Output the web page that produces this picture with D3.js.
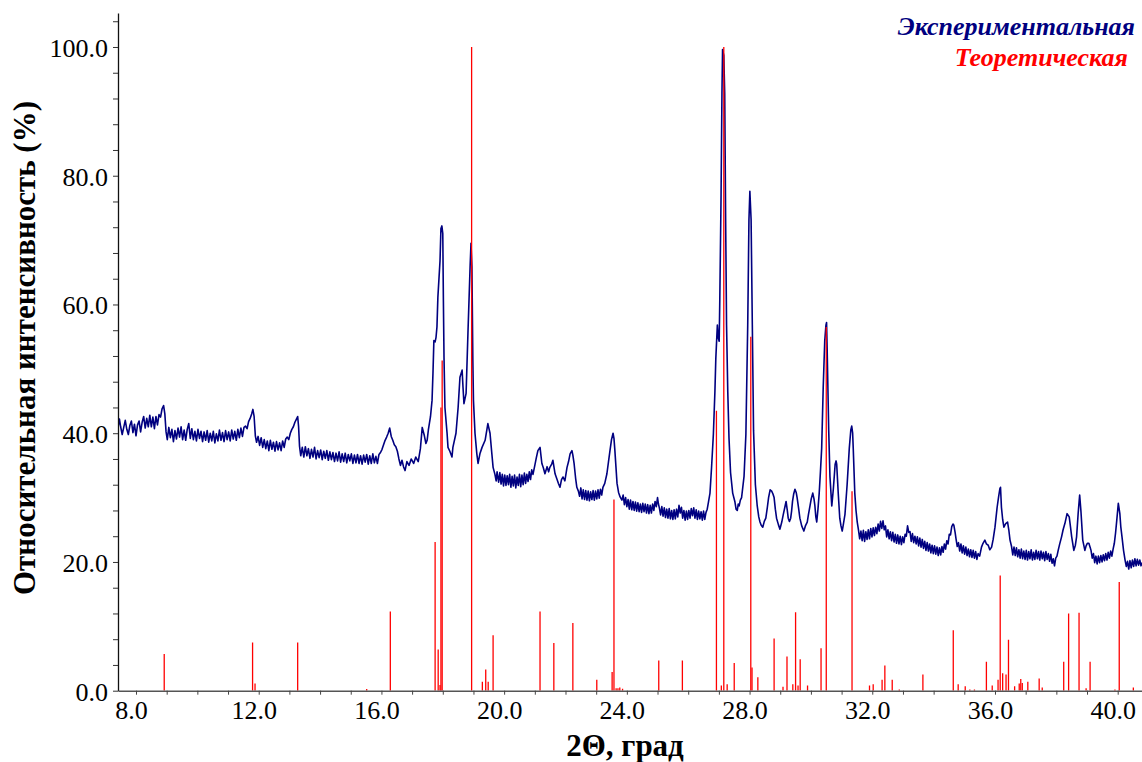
<!DOCTYPE html>
<html><head><meta charset="utf-8">
<script src="https://cdn.jsdelivr.net/npm/d3@7"></script>
<style>body{margin:0;background:#fff}svg{display:block}</style>
</head><body>
<svg id="chart" width="1142" height="762"></svg>
<script>
// Experimental pattern: [2Θ, relative intensity %]
const experimental = [
[7.41,40.8],[7.46,42.2],[7.5,41.0],[7.55,39.8],[7.6,40.9],[7.65,42.0],[7.7,40.6],[7.75,39.8],[7.8,41.2],[7.85,41.9],[7.9,40.1],[7.95,41.4],[8.0,39.6],[8.05,41.3],[8.1,41.9],[8.15,40.2],[8.2,41.7],[8.25,42.6],[8.3,40.8],[8.35,42.3],[8.4,41.0],[8.45,42.8],[8.5,41.0],[8.55,42.5],[8.6,40.7],[8.65,42.6],[8.7,41.3],[8.75,42.9],[8.8,42.5],[8.85,43.8],[8.9,44.3],[8.94,43.0],[8.98,40.2],
[9.02,39.0],[9.07,40.9],[9.12,39.3],[9.17,40.6],[9.22,38.7],[9.27,40.4],[9.32,39.1],[9.37,40.8],[9.42,39.4],[9.47,41.0],[9.52,39.0],[9.57,40.5],[9.62,38.9],[9.67,40.6],[9.72,41.5],[9.77,39.2],[9.82,40.7],[9.87,39.0],[9.92,40.3],[9.97,38.8],[10.02,40.6],[10.07,39.2],[10.12,40.3],[10.17,38.7],[10.22,40.2],[10.27,38.9],[10.32,40.4],[10.37,38.6],[10.42,40.0],[10.47,38.8],[10.52,40.3],[10.57,38.5],[10.62,39.9],[10.67,38.8],[10.72,40.5],[10.77,38.9],[10.82,40.1],[10.87,38.7],[10.92,40.4],[10.97,39.0],[11.02,40.2],[11.07,38.8],[11.12,40.5],[11.17,39.1],[11.22,40.3],[11.27,38.9],[11.32,40.6],[11.37,39.3],[11.42,40.8],[11.47,39.5],[11.52,40.9],
[11.57,41.1],[11.62,40.7],[11.67,41.8],[11.72,42.3],[11.77,43.0],[11.81,43.7],[11.85,42.6],[11.89,39.6],
[11.93,38.6],[11.98,39.5],[12.03,38.1],[12.08,39.3],[12.13,37.8],[12.18,39.0],[12.23,37.6],[12.28,38.8],[12.33,37.3],[12.38,38.9],[12.43,37.5],[12.48,38.6],[12.53,37.2],[12.58,38.7],[12.63,37.4],[12.68,38.5],[12.73,37.3],[12.78,38.8],[12.83,37.8],[12.88,39.1],
[12.93,39.4],[12.98,39.0],[13.03,40.0],[13.08,40.6],[13.13,41.0],[13.18,41.7],[13.23,42.2],[13.27,42.6],[13.3,41.0],[13.33,38.0],
[13.37,36.5],[13.42,37.8],[13.47,36.3],[13.52,37.9],[13.57,36.5],[13.62,37.6],[13.67,36.1],[13.72,37.5],[13.77,36.3],[13.82,37.8],[13.87,36.0],[13.92,37.3],[13.97,36.2],[14.02,37.4],[14.07,35.9],[14.12,37.2],[14.17,36.1],[14.22,37.3],[14.27,35.8],[14.32,37.1],[14.37,35.9],[14.42,37.0],[14.47,35.6],[14.52,36.9],[14.57,35.7],[14.62,37.1],[14.67,35.5],[14.72,36.8],[14.77,35.6],[14.82,36.9],[14.87,35.4],[14.92,36.7],[14.97,35.7],[15.02,36.8],[15.07,35.3],[15.12,36.6],[15.17,35.4],[15.22,36.7],[15.27,35.3],[15.32,36.5],[15.37,35.2],[15.42,36.6],[15.47,35.5],[15.52,36.7],[15.57,35.2],[15.62,36.5],[15.67,35.3],[15.72,36.8],[15.77,35.4],[15.82,36.4],[15.87,35.3],[15.92,36.7],[15.97,37.0],
[16.02,37.5],[16.07,38.2],[16.12,38.9],[16.17,39.4],[16.22,40.0],[16.27,40.8],[16.32,39.5],[16.37,38.9],[16.42,38.2],[16.47,37.9],[16.52,37.2],[16.57,36.0],[16.62,35.0],[16.67,35.8],[16.72,34.8],[16.77,34.2],[16.83,35.6],[16.9,35.0],[16.97,36.0],[17.05,35.3],[17.12,36.3],[17.2,35.6],[17.27,37.6],[17.33,40.9],[17.4,39.6],[17.45,38.4],[17.49,38.9],[17.53,40.5],[17.6,42.6],[17.65,45.1],[17.68,49.3],[17.71,54.4],[17.75,54.2],[17.78,54.9],[17.81,56.5],[17.84,61.1],[17.91,66.8],[17.94,71.8],[17.97,72.2],[18.0,71.0],[18.02,60.6],[18.04,51.8],[18.07,44.0],[18.14,40.0],[18.17,37.8],[18.23,37.2],[18.3,36.3],[18.33,37.8],[18.43,40.0],[18.5,44.0],[18.56,48.7],[18.63,49.8],[18.66,47.1],[18.69,44.6],[18.76,46.2],[18.82,55.5],[18.89,65.8],[18.92,69.5],[18.95,65.8],[18.98,51.3],[19.0,45.1],[19.05,40.0],[19.11,36.8],[19.15,35.3],[19.21,36.8],[19.28,37.8],[19.38,38.9],[19.47,41.5],[19.54,40.0],[19.6,36.8],[19.64,34.7],
[19.7,33.6],[19.74,32.6],[19.77,34.0],[19.82,32.4],[19.86,33.9],[19.9,32.1],[19.94,33.6],[19.98,31.8],[20.02,33.5],[20.06,31.9],[20.1,33.4],[20.14,32.0],[20.18,33.6],[20.22,31.6],[20.26,33.3],[20.3,31.8],[20.34,33.5],[20.38,31.5],[20.42,33.2],[20.46,31.9],[20.5,33.6],[20.54,31.7],[20.58,33.5],[20.62,32.0],[20.66,33.8],[20.7,32.2],[20.74,33.6],[20.78,32.5],[20.82,34.0],[20.86,32.8],[20.9,34.3],[20.94,33.6],
[21.0,35.0],[21.05,36.2],[21.1,37.3],[21.17,37.8],[21.23,35.3],[21.28,34.6],[21.33,33.7],[21.4,34.8],[21.45,34.0],[21.49,34.7],[21.55,35.2],[21.59,35.8],[21.66,33.7],[21.72,32.9],[21.77,32.2],[21.82,31.6],[21.87,32.8],[21.92,33.2],[21.98,32.6],[22.05,34.7],[22.1,35.6],[22.15,36.8],[22.21,37.3],[22.24,36.6],[22.28,35.3],[22.33,33.0],[22.37,31.6],
[22.42,31.0],[22.46,30.2],[22.5,31.5],[22.54,29.8],[22.58,31.2],[22.62,29.7],[22.66,31.1],[22.7,29.6],[22.74,31.0],[22.78,29.5],[22.82,30.9],[22.86,29.7],[22.9,31.1],[22.94,29.6],[22.98,31.0],[23.02,29.8],[23.06,31.2],[23.1,29.9],[23.14,31.3],[23.18,30.4],[23.22,31.6],
[23.28,32.2],[23.35,33.7],[23.4,35.5],[23.45,37.3],[23.5,39.0],[23.55,40.0],[23.58,39.2],[23.61,37.3],[23.68,32.2],[23.73,30.8],[23.78,30.1],
[23.84,29.6],[23.88,30.4],[23.92,28.9],[23.96,30.0],[24.0,28.6],[24.04,29.7],[24.08,28.2],[24.12,29.6],[24.16,28.1],[24.2,29.4],[24.24,28.0],[24.28,29.3],[24.32,27.9],[24.36,29.2],[24.4,27.8],[24.44,29.0],[24.48,27.7],[24.52,29.1],[24.56,27.8],[24.6,29.0],[24.64,27.6],[24.68,28.9],[24.72,27.5],[24.76,28.8],[24.8,27.6],[24.84,29.0],[24.88,28.0],[24.92,29.4],[24.96,28.6],[25.0,30.0],[25.03,29.0],[25.06,28.4],[25.1,27.3],[25.14,28.6],[25.18,27.1],[25.22,28.4],[25.26,26.9],[25.3,28.2],[25.34,26.8],[25.38,28.3],[25.42,26.7],[25.46,28.0],[25.5,26.6],[25.54,28.1],[25.58,26.7],[25.62,28.2],[25.66,27.0],[25.7,28.8],[25.74,27.6],[25.78,28.5],[25.82,26.8],[25.86,28.0],[25.9,26.5],[25.94,27.9],[25.98,26.6],[26.02,28.0],[26.06,26.8],[26.1,28.3],[26.14,27.2],[26.18,28.4],[26.22,26.8],[26.26,28.1],[26.3,26.6],[26.34,27.9],[26.38,26.7],[26.42,27.8],[26.46,26.5],[26.5,27.9],[26.54,26.6],[26.58,27.7],[26.62,28.2],[26.66,29.3],
[26.71,30.7],[26.76,34.6],[26.82,39.8],[26.87,46.4],[26.9,51.6],[26.95,56.8],[26.98,54.8],[27.01,54.3],[27.03,60.8],[27.07,76.5],[27.1,92.8],[27.12,99.6],[27.16,98.7],[27.19,92.8],[27.22,73.2],[27.25,56.8],[27.29,46.4],[27.33,39.2],[27.38,33.9],[27.45,30.7],[27.52,29.4],[27.56,28.2],[27.6,28.0],[27.63,29.0],[27.66,28.7],[27.7,29.6],[27.74,30.0],[27.82,33.3],[27.88,39.8],[27.94,56.8],[27.98,73.2],[28.01,77.6],[28.05,73.2],[28.09,56.8],[28.13,40.4],[28.19,32.0],[28.25,28.7],[28.3,27.0],[28.34,26.2],[28.38,25.7],[28.43,25.4],[28.48,26.3],[28.53,26.8],[28.58,28.5],[28.62,30.0],[28.67,31.2],[28.72,31.0],[28.76,30.6],[28.8,30.0],[28.84,28.2],[28.88,26.8],[28.94,25.8],[28.99,25.1],[29.05,26.2],[29.1,27.4],[29.15,28.5],[29.19,29.4],[29.23,28.0],[29.26,26.8],[29.3,26.3],[29.34,26.8],[29.37,27.9],[29.4,29.4],[29.44,30.6],[29.48,31.3],[29.52,30.8],[29.55,30.0],[29.6,28.3],[29.64,26.8],[29.7,25.6],[29.77,24.8],[29.82,25.6],[29.88,26.2],[29.92,27.4],[29.97,28.7],[30.01,29.8],[30.06,30.7],[30.1,29.8],[30.13,28.7],[30.16,27.0],[30.19,26.2],[30.23,28.2],[30.27,30.7],[30.31,34.0],[30.35,37.6],[30.4,47.0],[30.45,54.3],[30.49,56.8],[30.51,57.2],[30.53,52.9],[30.58,40.4],[30.62,33.3],[30.68,28.7],[30.73,31.3],[30.79,35.2],[30.82,35.7],[30.84,35.2],[30.89,30.7],[30.94,26.8],[30.98,25.6],[31.02,24.8],[31.06,25.9],[31.11,27.4],[31.18,32.0],[31.25,37.6],[31.3,40.5],[31.33,41.1],[31.36,40.0],[31.38,37.6],[31.43,30.7],[31.47,28.0],[31.51,26.2],
[31.55,25.0],[31.59,23.6],[31.63,24.8],[31.67,23.3],[31.71,24.9],[31.75,23.2],[31.79,24.7],[31.83,23.5],[31.87,25.0],[31.91,23.6],[31.95,25.2],[31.99,23.9],[32.03,25.3],[32.07,24.1],[32.11,25.4],[32.15,24.4],[32.19,25.9],[32.23,24.8],[32.27,26.3],[32.31,25.2],[32.35,26.4],[32.39,25.0],[32.43,25.6],[32.47,23.9],[32.51,25.0],[32.55,23.6],[32.59,24.7],[32.63,23.3],[32.67,24.6],[32.71,23.1],[32.75,24.3],[32.79,22.9],[32.83,24.2],[32.87,22.8],[32.91,24.0],[32.95,22.7],[32.99,23.9],[33.03,23.0],[33.07,24.3],[33.11,24.0],[33.15,25.6],[33.19,24.6],[33.23,24.7],[33.27,23.2],[33.31,24.4],[33.35,23.0],[33.39,24.0],[33.43,22.8],[33.47,23.9],[33.51,22.5],[33.55,23.7],[33.59,22.3],[33.63,23.5],[33.67,22.1],[33.71,23.2],[33.75,21.8],[33.79,23.0],[33.83,21.7],[33.87,22.8],[33.91,21.4],[33.95,22.6],[33.99,21.3],[34.03,22.5],[34.07,21.2],[34.11,22.3],[34.15,21.0],[34.19,22.2],[34.23,21.1],[34.27,22.4],[34.31,21.5],[34.35,22.8],[34.39,22.0],[34.43,23.3],[34.47,22.8],[34.51,24.3],[34.55,24.2],[34.59,25.5],[34.63,25.9],[34.66,25.7],[34.7,24.6],[34.73,23.6],[34.77,22.4],[34.81,23.0],[34.85,21.7],[34.89,22.8],[34.93,21.4],[34.97,22.5],[35.01,21.2],[35.05,22.3],[35.09,21.0],[35.13,22.0],[35.17,20.8],[35.21,21.9],[35.25,20.7],[35.29,21.8],[35.33,20.6],[35.37,21.6],[35.41,20.4],[35.45,21.3],[35.5,20.9],
[35.56,22.3],[35.61,22.9],[35.67,23.4],[35.72,22.8],[35.78,22.6],[35.83,21.9],[35.89,22.3],[35.94,23.5],[36.0,25.4],[36.07,28.5],[36.12,30.2],[36.16,31.4],[36.18,31.6],[36.21,28.5],[36.25,26.6],[36.29,25.4],[36.33,25.8],[36.36,26.0],[36.41,26.2],[36.45,25.0],[36.49,23.4],
[36.54,22.4],[36.58,21.1],[36.62,22.3],[36.66,21.0],[36.7,22.2],[36.74,20.8],[36.78,21.9],[36.82,20.6],[36.86,22.0],[36.9,20.5],[36.94,21.7],[36.98,20.4],[37.02,21.8],[37.06,20.3],[37.1,21.6],[37.14,20.5],[37.18,21.9],[37.22,20.3],[37.26,21.5],[37.3,20.4],[37.34,21.8],[37.38,20.5],[37.42,21.6],[37.46,20.3],[37.5,21.7],[37.54,20.5],[37.58,21.5],[37.62,20.2],[37.66,21.6],[37.7,20.4],[37.74,21.3],[37.78,20.1],[37.82,21.2],[37.86,19.8],[37.9,20.5],[37.94,19.4],[37.98,20.6],[38.02,20.9],
[38.06,21.8],[38.11,22.8],[38.17,23.9],[38.22,25.0],[38.28,26.0],[38.35,27.5],[38.42,27.0],[38.46,25.5],[38.5,23.9],[38.57,21.8],[38.62,22.6],[38.66,23.9],[38.71,27.5],[38.76,30.4],[38.8,28.0],[38.86,23.4],[38.93,21.8],[38.97,22.5],[39.01,22.9],[39.06,22.9],[39.1,22.3],
[39.13,21.8],[39.17,20.6],[39.21,21.3],[39.25,19.9],[39.29,20.9],[39.33,19.7],[39.37,20.9],[39.41,19.9],[39.45,21.0],[39.49,20.0],[39.53,21.1],[39.57,20.2],[39.61,21.3],[39.65,20.3],[39.69,21.5],[39.73,20.6],[39.77,21.7],[39.81,20.9],[39.85,22.0],
[39.89,22.9],[39.93,24.5],[39.97,26.5],[40.02,29.1],[40.07,27.5],[40.1,25.5],[40.14,23.9],[40.19,21.8],
[40.24,20.3],[40.28,19.3],[40.32,20.1],[40.36,18.9],[40.4,20.2],[40.44,19.1],[40.48,20.3],[40.52,19.3],[40.56,20.5],[40.6,19.4],[40.64,20.4],[40.68,19.5],[40.72,20.3],[40.76,19.4],[40.79,19.9]
];

// Theoretical reflections
const theoTheta = [8.92,11.80,11.88,13.27,15.52,16.29,17.75,17.85,17.91,17.94,17.98,18.94,19.29,19.40,19.48,19.64,21.17,21.62,22.24,23.02,23.52,23.58,23.65,23.71,23.77,23.86,25.04,25.81,26.92,27.08,27.16,27.27,27.50,28.04,28.08,28.27,28.80,29.09,29.22,29.41,29.50,29.58,29.65,29.89,30.33,30.50,31.34,31.91,32.03,32.32,32.41,32.65,32.88,33.65,34.64,34.80,35.03,35.18,35.33,35.72,35.91,36.10,36.17,36.25,36.36,36.44,36.64,36.79,36.84,36.89,37.07,37.44,37.54,38.24,38.40,38.74,38.97,39.10,39.91,40.05,40.51];
const theoIntensity = [5.7,7.5,1.1,7.5,0.25,12.3,23.1,6.4,0.9,44.0,51.3,100,1.4,3.3,1.4,8.6,12.3,7.4,10.5,1.7,2.9,29.7,0.4,0.4,0.5,0.3,4.7,4.7,43.5,0.8,100,1.0,4.3,55.0,3.6,2.1,8.1,0.6,5.3,1.0,12.2,0.8,4.9,0.8,6.6,56.5,31.0,0.8,1.0,1.7,3.9,1.7,0.2,2.5,9.4,1.0,0.7,0.2,0.2,4.5,0.8,1.7,17.9,2.7,2.5,7.9,0.7,1.1,1.8,1.2,1.4,1.9,0.5,4.5,12.0,12.1,0.4,4.5,0.2,16.9,0.5];

const xTicks = d3.range(8, 41, 1);
const xLabelTicks = [8,12,16,20,24,28,32,36,40];
const yTicks = d3.range(0, 105, 4);
const yLabelTicks = [0,20,40,60,80,100];
const seriesNames = ["Экспериментальная", "Теоретическая"];
const xTitle = "2Θ, град";
const yTitle = "Относительная интенсивность (%)";

const svg = d3.select("#chart");
const L = 118, R = 1142, T = 13, B = 690.7;
const x = d3.scaleLinear().domain([7.4133, 40.792]).range([L, R]);
const y = d3.scaleLinear().domain([0, 105.28]).range([B, T]);

svg.append("defs").append("clipPath").attr("id","clip")
  .append("rect").attr("x",L).attr("y",T).attr("width",R-L).attr("height",B-T);

const plot = svg.append("g").attr("clip-path","url(#clip)");

plot.append("path")
  .datum(experimental)
  .attr("fill","none")
  .attr("stroke","#000080")
  .attr("stroke-width",1.6)
  .attr("stroke-linejoin","round")
  .attr("d", d3.line().x(d=>x(d[0])).y(d=>y(d[1])));

plot.selectAll("line.theo")
  .data(theoTheta.map((t,i)=>[t, theoIntensity[i]]))
  .join("line").attr("class","theo")
  .attr("x1", d=>x(d[0])).attr("x2", d=>x(d[0]))
  .attr("y1", y(0)).attr("y2", d=>y(d[1]))
  .attr("stroke","#ff0000").attr("stroke-width",1.3);

const fontSerif = "'Liberation Serif','Times New Roman',serif";

const yAxis = svg.append("g").attr("transform",`translate(${L},0)`)
  .call(d3.axisLeft(y).tickValues(yTicks).tickSize(5).tickSizeOuter(0).tickPadding(5)
    .tickFormat(d => yLabelTicks.includes(d) ? d3.format(".1f")(d) : ""));
yAxis.select(".domain").attr("stroke","#111").attr("stroke-width",1.3);
yAxis.selectAll(".tick line").attr("stroke","#333").attr("stroke-width",1);
yAxis.selectAll("text").attr("font-family",fontSerif).attr("font-size",26).attr("fill","#000").attr("dy","0.36em");

const xAxis = svg.append("g").attr("transform",`translate(0,${B})`)
  .call(d3.axisBottom(x).tickValues(xTicks).tickSize(4).tickSizeOuter(0).tickPadding(6)
    .tickFormat(d => xLabelTicks.includes(d) ? d3.format(".1f")(d) : ""));
xAxis.select(".domain").attr("stroke","#555").attr("stroke-width",1.6);
xAxis.selectAll(".tick line").attr("stroke","#444").attr("stroke-width",1);
xAxis.selectAll("text").attr("font-family",fontSerif).attr("font-size",26).attr("fill","#000").attr("dx",-5);

svg.append("text")
  .attr("transform","translate(35,348) rotate(-90)")
  .attr("text-anchor","middle")
  .attr("font-family",fontSerif).attr("font-weight","bold").attr("font-size",31)
  .text(yTitle);

svg.append("text")
  .attr("x",625).attr("y",756)
  .attr("text-anchor","middle")
  .attr("font-family",fontSerif).attr("font-weight","bold").attr("font-size",31)
  .text(xTitle);

const legendColors = ["#000080","#ff0000"];
const legendPos = [[1135,35],[1128,66]];
seriesNames.forEach((n,i)=>{
  svg.append("text").attr("x",legendPos[i][0]).attr("y",legendPos[i][1])
    .attr("text-anchor","end")
    .attr("font-family",fontSerif).attr("font-weight","bold").attr("font-style","italic")
    .attr("font-size",26).attr("fill",legendColors[i]).text(n);
});
</script>
</body></html>
